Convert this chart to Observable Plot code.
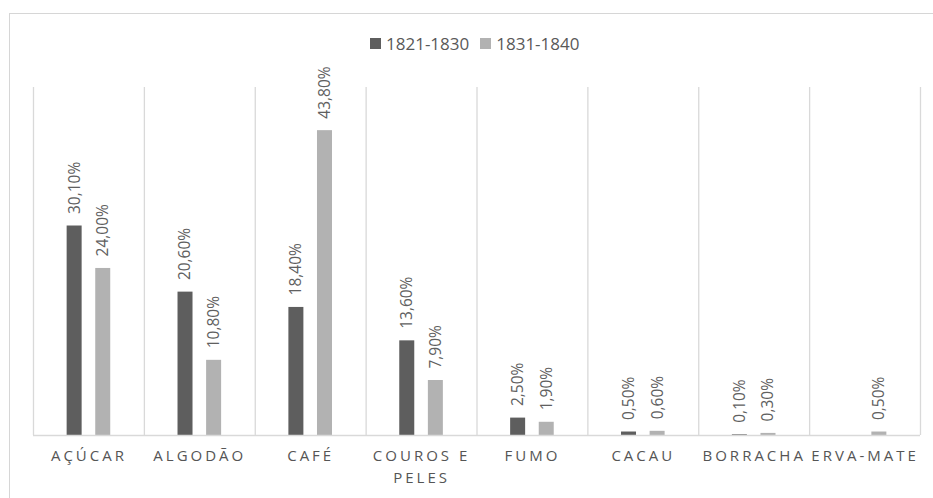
<!DOCTYPE html>
<html>
<head>
<meta charset="utf-8">
<script src="https://cdn.jsdelivr.net/npm/d3@7"></script>
<script src="https://cdn.jsdelivr.net/npm/@observablehq/plot@0.6"></script>
<style>
  html, body { margin: 0; padding: 0; background: #fff; }
  #wrap { position: relative; width: 933px; height: 498px; overflow: hidden; font-family: "Open Sans", sans-serif; }
  #frame { position: absolute; left: 9px; top: 13px; width: 960px; height: 520px; border: 1.5px solid #d6d6d6; box-sizing: border-box; }
  #chart { position: absolute; left: 0; top: 0; }
  #legend { position: absolute; top: 32px; left: 370px; display: flex; align-items: center; font-size: 17px; color: #595959; white-space: nowrap; }
  #legend .item { display: flex; align-items: center; margin-right: 11px; }
  #legend .sw { width: 11px; height: 11px; margin-right: 5px; }
  svg [aria-label="x-axis tick label"] text { letter-spacing: 3px; }
</style>
</head>
<body>
<div id="wrap">
  <div id="frame"></div>
  <div id="chart"></div>
  <div id="legend"></div>
</div>
<script>
const categories = ["AÇÚCAR", "ALGODÃO", "CAFÉ", "COUROS E PELES", "FUMO", "CACAU", "BORRACHA", "ERVA-MATE"];
const series = ["1821-1830", "1831-1840"];
const values1821 = [30.1, 20.6, 18.4, 13.6, 2.5, 0.5, 0.1, null];
const values1831 = [24.0, 10.8, 43.8, 7.9, 1.9, 0.6, 0.3, 0.5];
const colors = ["#5e5e5e", "#b2b2b2"];

const W = 933, H = 498;
const mL = 33, mR = 13, mT = 87, mB = 63;
const bw = (W - mL - mR) / categories.length;
const barW = 15;
const inset = (bw - barW) / 2;
const off = 14.3;

const d1 = categories.map((c, i) => ({cat: c, series: series[0], value: values1821[i]})).filter(d => d.value != null);
const d2 = categories.map((c, i) => ({cat: c, series: series[1], value: values1831[i]})).filter(d => d.value != null);
const fmt = v => v.toFixed(2).replace(".", ",") + "%";

const labelStyle = {fill: "#606060", fontSize: 15.5, rotate: -90, textAnchor: "start", lineAnchor: "middle"};

const plot = Plot.plot({
  width: W,
  height: H,
  marginLeft: mL,
  marginRight: mR,
  marginTop: mT,
  marginBottom: mB,
  style: {fontFamily: "'Open Sans', sans-serif", background: "transparent", overflow: "visible"},
  x: {domain: categories, padding: 0, round: false, label: null, axis: null},
  y: {domain: [0, 50], axis: null},
  marks: [
    Plot.ruleX(categories, {x: d => d, dx: -bw / 2, stroke: "#d9d9d9", strokeWidth: 1.3}),
    Plot.ruleX(categories.slice(-1), {x: d => d, dx: bw / 2, stroke: "#d9d9d9", strokeWidth: 1.3}),
    Plot.barY(d1, {x: "cat", y: "value", fill: colors[0], insetLeft: inset, insetRight: inset, dx: -off}),
    Plot.barY(d2, {x: "cat", y: "value", fill: colors[1], insetLeft: inset, insetRight: inset, dx: off}),
    Plot.ruleY([0], {stroke: "#d9d9d9", strokeWidth: 1.3}),
    Plot.text(d1, {x: "cat", y: "value", text: d => fmt(d.value), dx: -off, dy: -12, ...labelStyle}),
    Plot.text(d2, {x: "cat", y: "value", text: d => fmt(d.value), dx: off, dy: -12, ...labelStyle}),
    Plot.axisX({
      tickSize: 0,
      tickPadding: 10,
      fontSize: 15,
      fill: "#555555",
      lineHeight: 1.45,
      tickFormat: d => d === "COUROS E PELES" ? "COUROS E\nPELES" : d
    })
  ]
});
document.getElementById("chart").appendChild(plot);

const legend = document.getElementById("legend");
series.forEach((s, i) => {
  const item = document.createElement("div");
  item.className = "item";
  const sw = document.createElement("div");
  sw.className = "sw";
  sw.style.background = colors[i];
  const t = document.createElement("span");
  t.textContent = s;
  item.appendChild(sw);
  item.appendChild(t);
  legend.appendChild(item);
});
</script>
</body>
</html>
